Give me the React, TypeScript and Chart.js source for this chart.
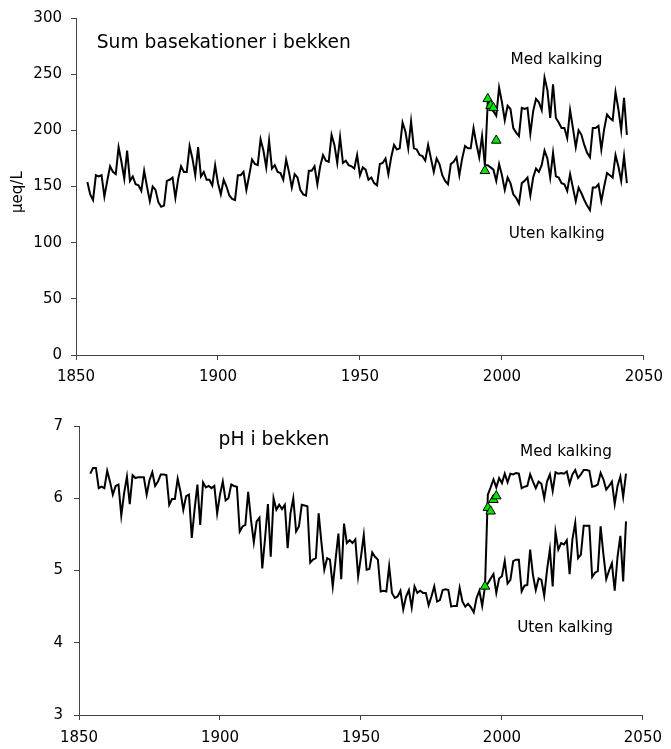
import React, { useEffect, useRef } from "react";
import { Chart, registerables } from "chart.js";

Chart.register(...registerables);

const FONT = "'DejaVu Sans', 'Liberation Sans', sans-serif";

// ---------- data ----------
const firstYear = 1854; // first simulated year
const splitYear = 1994; // scenarios split here

const xTicks = [1850, 1900, 1950, 2000, 2050];
const baseTicks = [0, 50, 100, 150, 200, 250, 300];
const phTicks = [3, 4, 5, 6, 7];

// Sum basekationer (µeq/L), 1854–1994
const baseHistory = [
  154, 143, 138, 160, 159, 160, 141, 155, 168, 163,
  161, 185, 172, 157, 182, 155, 159, 152, 151, 146,
  164, 150, 137, 150, 147, 136, 132, 133, 155, 156,
  158, 140, 157, 168, 163, 163, 186, 175, 160, 185,
  159, 163, 156, 156, 151, 169, 153, 143, 156, 150,
  142, 139, 138, 160, 160, 163, 147, 160, 174, 170,
  169, 192, 182, 167, 191, 166, 169, 163, 162, 156,
  174, 163, 149, 161, 158, 147, 143, 142, 164, 164,
  168, 152, 168, 178, 173, 172, 196, 187, 171, 194,
  171, 173, 169, 168, 166, 178, 160, 167, 165, 156,
  158, 153, 151, 170, 171, 175, 161, 176, 187, 183,
  184, 207, 199, 184, 208, 184, 183, 178, 177, 173,
  187, 175, 163, 175, 170, 160, 155, 152, 170, 172,
  176, 160, 175, 186, 184, 184, 202, 188, 176, 195,
  169,
];
// 1994–2044, med kalking
const baseWithLiming = [
  169, 225, 219, 217, 213, 238, 225, 209, 222, 219,
  202, 198, 195, 220, 219, 220, 197, 217, 228, 225,
  218, 247, 236, 211, 241, 211, 207, 202, 202, 193,
  218, 202, 185, 200, 196, 187, 180, 176, 202, 202,
  204, 183, 201, 214, 211, 209, 234, 219, 200, 229,
  196,
];
// 1994–2044, uten kalking
const baseWithoutLiming = [
  169, 169, 167, 165, 155, 170, 160, 147, 158, 153,
  143, 140, 135, 153, 155, 158, 142, 158, 166, 163,
  169, 182, 175, 158, 180, 159, 158, 153, 152, 146,
  161, 149, 137, 149, 144, 138, 133, 129, 149, 149,
  152, 137, 150, 162, 160, 158, 178, 168, 155, 177,
  153,
];
const obsYears = [1994, 1995, 1996, 1997, 1998];
const baseObserved = [164, 228, 222, 220, 191];

// pH, 1854–1994
const phHistory = [
  6.34, 6.42, 6.42, 6.14, 6.16, 6.14, 6.38, 6.23, 6.05, 6.17,
  6.19, 5.76, 6.07, 6.30, 5.92, 6.32, 6.28, 6.29, 6.29, 6.29,
  6.05, 6.25, 6.36, 6.17, 6.23, 6.33, 6.33, 6.32, 5.91, 5.99,
  5.99, 6.27, 6.09, 5.84, 6.03, 6.05, 5.45, 5.85, 6.19, 5.63,
  6.22, 6.15, 6.17, 6.14, 6.17, 5.79, 6.05, 6.23, 5.97, 6.00,
  6.19, 6.17, 6.16, 5.54, 5.61, 5.63, 6.09, 5.70, 5.39, 5.68,
  5.73, 5.03, 5.45, 5.92, 5.19, 6.00, 5.84, 5.91, 5.85, 5.91,
  5.31, 5.79, 6.00, 5.54, 5.61, 5.91, 5.90, 5.89, 5.11, 5.15,
  5.17, 5.79, 5.38, 5.01, 5.17, 5.15, 4.78, 5.15, 5.51, 4.88,
  5.65, 5.38, 5.42, 5.38, 5.43, 4.92, 5.19, 5.49, 5.01, 5.02,
  5.25, 5.19, 5.15, 4.71, 4.72, 4.71, 5.06, 4.69, 4.62, 4.64,
  4.72, 4.46, 4.64, 4.73, 4.49, 4.78, 4.69, 4.72, 4.69, 4.69,
  4.52, 4.64, 4.78, 4.57, 4.59, 4.73, 4.74, 4.73, 4.50, 4.51,
  4.51, 4.76, 4.57, 4.50, 4.54, 4.49, 4.42, 4.62, 4.72, 4.51,
  4.78,
];
const phWithLiming = [
  4.78, 6.05, 6.15, 6.26, 6.15, 6.28, 6.21, 6.34, 6.22, 6.34,
  6.33, 6.35, 6.34, 6.14, 6.16, 6.17, 6.33, 6.23, 6.14, 6.23,
  6.20, 6.00, 6.23, 6.33, 6.10, 6.36, 6.34, 6.35, 6.34, 6.37,
  6.20, 6.33, 6.39, 6.28, 6.33, 6.39, 6.39, 6.38, 6.16, 6.17,
  6.19, 6.35, 6.26, 6.12, 6.17, 6.23, 5.92, 6.17, 6.30, 6.02,
  6.34,
];
const phWithoutLiming = [
  4.78, 4.82, 4.89, 4.95, 4.69, 4.89, 4.92, 5.13, 4.82, 4.87,
  5.13, 5.15, 5.15, 4.71, 4.79, 4.80, 5.29, 4.94, 4.73, 4.89,
  4.87, 4.65, 5.01, 5.29, 4.78, 5.53, 5.29, 5.38, 5.36, 5.42,
  4.95, 5.43, 5.66, 5.17, 5.22, 5.62, 5.62, 5.62, 4.91, 4.97,
  4.99, 5.61, 5.22, 4.88, 5.00, 5.10, 4.72, 5.19, 5.48, 4.85,
  5.68,
];
const phObserved = [4.78, 5.87, 5.82, 5.98, 6.03];

// ---------- helpers ----------
const toPoints = (start: number, values: number[]) =>
  values.map((v, i) => ({ x: start + i, y: v }));

const textPlugin = {
  id: "texts",
  afterDatasetsDraw(chart: any, _args: any, opts: any) {
    const { ctx, scales } = chart;
    const x = scales.x;
    const y = scales.y;
    ctx.save();
    ctx.fillStyle = "#000";
    ctx.textBaseline = "middle";
    for (const t of opts.items || []) {
      ctx.font = `${t.size}px ${FONT}`;
      ctx.textAlign = t.align || "center";
      ctx.fillText(t.text, x.getPixelForValue(t.x), y.getPixelForValue(t.y));
    }
    if (opts.yTitle) {
      const yt = opts.yTitle;
      ctx.font = `${yt.size}px ${FONT}`;
      ctx.textAlign = "center";
      ctx.translate(yt.px, y.getPixelForValue(yt.y));
      ctx.rotate(-Math.PI / 2);
      ctx.fillText(yt.text, 0, 0);
    }
    ctx.restore();
  },
};

type PanelCfg = {
  history: number[];
  withLiming: number[];
  withoutLiming: number[];
  observed: number[];
  yMin: number;
  yMax: number;
  yTicks: number[];
  yAxisWidth: number;
  xAxisHeight: number;
  padding: { left: number; right: number; top: number; bottom: number };
  xTickPad: number;
  yTickPad: number;
  texts: any;
};

function buildConfig(p: PanelCfg): any {
  const line = (data: any[]) => ({
    type: "line",
    data,
    borderColor: "#000",
    borderWidth: 2,
    pointRadius: 0,
    tension: 0,
    fill: false,
    order: 1,
  });
  return {
    type: "line",
    data: {
      datasets: [
        {
          type: "line",
          data: obsYears.map((yr, i) => ({ x: yr, y: p.observed[i] })),
          showLine: false,
          pointStyle: "triangle",
          pointRadius: 5.5,
          pointBackgroundColor: "#00e600",
          pointBorderColor: "#000",
          pointBorderWidth: 1,
          order: 0,
        },
        line(toPoints(firstYear, p.history)),
        line(toPoints(splitYear, p.withLiming)),
        line(toPoints(splitYear, p.withoutLiming)),
      ],
    },
    options: {
      responsive: false,
      animation: false,
      maintainAspectRatio: false,
      layout: { padding: p.padding },
      plugins: {
        legend: { display: false },
        tooltip: { enabled: false },
        title: { display: false },
        texts: p.texts,
      },
      scales: {
        x: {
          type: "linear",
          min: 1850,
          max: 2050,
          afterBuildTicks: (s: any) => {
            s.ticks = xTicks.map((v) => ({ value: v }));
          },
          afterFit: (s: any) => {
            s.height = p.xAxisHeight;
          },
          ticks: {
            color: "#000",
            font: { family: FONT, size: 15 },
            padding: p.xTickPad,
            maxRotation: 0,
            autoSkip: false,
            callback: (v: any) => String(v),
          },
          grid: {
            display: true,
            drawOnChartArea: false,
            drawTicks: true,
            tickLength: 5,
            color: "#444",
          },
          border: { display: true, color: "#444", width: 1 },
        },
        y: {
          type: "linear",
          min: p.yMin,
          max: p.yMax,
          afterBuildTicks: (s: any) => {
            s.ticks = p.yTicks.map((v) => ({ value: v }));
          },
          afterFit: (s: any) => {
            s.width = p.yAxisWidth;
          },
          ticks: {
            color: "#000",
            font: { family: FONT, size: 15 },
            padding: p.yTickPad,
            autoSkip: false,
            callback: (v: any) => String(v),
          },
          grid: {
            display: true,
            drawOnChartArea: false,
            drawTicks: true,
            tickLength: 5,
            color: "#444",
          },
          border: { display: true, color: "#444", width: 1 },
        },
      },
    },
    plugins: [textPlugin],
  };
}

const topPanel: PanelCfg = {
  history: baseHistory,
  withLiming: baseWithLiming,
  withoutLiming: baseWithoutLiming,
  observed: baseObserved,
  yMin: 0,
  yMax: 300,
  yTicks: baseTicks,
  yAxisWidth: 76,
  xAxisHeight: 35,
  padding: { left: 0, right: 21, top: 16, bottom: 0 },
  xTickPad: 8,
  yTickPad: 9,
  texts: {
    items: [
      { text: "Sum basekationer i bekken", x: 1857.3, y: 277.6, size: 18.7, align: "left" },
      { text: "Med kalking", x: 2019.2, y: 263, size: 15.3 },
      { text: "Uten kalking", x: 2019.3, y: 107.7, size: 15.3 },
    ],
    yTitle: { text: "µeq/L", px: 18, y: 145, size: 15 },
  },
};

const bottomPanel: PanelCfg = {
  history: phHistory,
  withLiming: phWithLiming,
  withoutLiming: phWithoutLiming,
  observed: phObserved,
  yMin: 3,
  yMax: 7,
  yTicks: phTicks,
  yAxisWidth: 79,
  xAxisHeight: 34,
  padding: { left: 0, right: 22, top: 36, bottom: 0 },
  xTickPad: 9,
  yTickPad: 11,
  texts: {
    items: [
      { text: "pH i bekken", x: 1899.5, y: 6.81, size: 18.7, align: "left" },
      { text: "Med kalking", x: 2022.7, y: 6.64, size: 15.3 },
      { text: "Uten kalking", x: 2022.4, y: 4.21, size: 15.3 },
    ],
  },
};

function Panel({ cfg, top, height }: { cfg: PanelCfg; top: number; height: number }) {
  const ref = useRef<HTMLCanvasElement | null>(null);
  useEffect(() => {
    if (!ref.current) return;
    const chart = new Chart(ref.current, buildConfig(cfg));
    return () => chart.destroy();
  }, [cfg]);
  return (
    <canvas
      ref={ref}
      width={671}
      height={height}
      style={{ position: "absolute", left: 0, top, width: 671, height, display: "block" }}
    />
  );
}

export default function App() {
  return (
    <div style={{ position: "absolute", left: 0, top: 0, width: 671, height: 749, background: "#fff" }}>
      <Panel cfg={topPanel} top={0} height={390} />
      <Panel cfg={bottomPanel} top={390} height={359} />
    </div>
  );
}
